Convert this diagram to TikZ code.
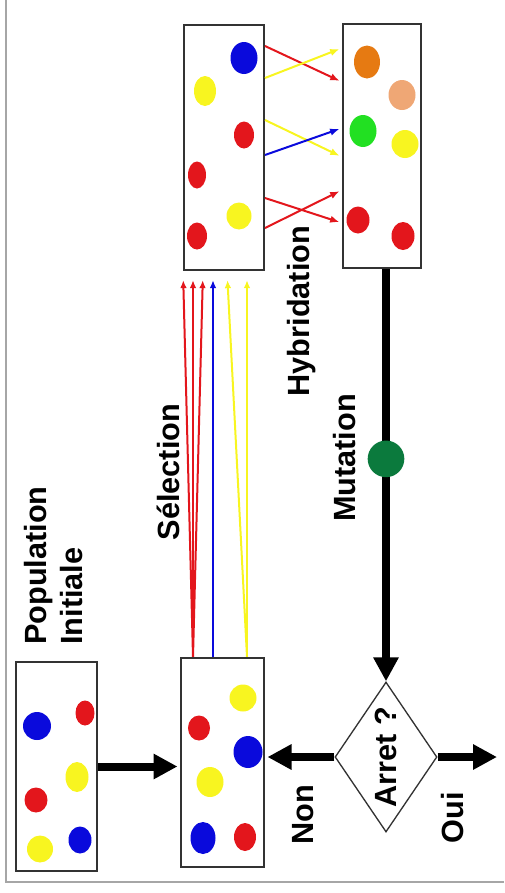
\documentclass[tikz,border=0pt]{standalone}
\usepackage{fontspec}
\setmainfont{Liberation Sans}
\usetikzlibrary{arrows.meta,positioning,calc,shapes.geometric}
\definecolor{dred}{HTML}{E3161C}
\definecolor{dblue}{HTML}{0A0ADC}
\definecolor{dyellow}{HTML}{F8F520}
\definecolor{dgreen}{HTML}{22E022}
\definecolor{dorange}{HTML}{E67A12}
\definecolor{dpeach}{HTML}{EFA775}
\definecolor{mgreen}{HTML}{0B7A3D}
\definecolor{boxgray}{HTML}{333333}
\begin{document}
\begin{tikzpicture}[x=0.75pt,y=-0.75pt,>=Latex,
  every node/.style={font=\bfseries\fontsize{23}{27}\selectfont},
  popbox/.style={draw=boxgray,line width=1.5pt,inner sep=0pt,minimum width=61pt,minimum height=157pt},
  genbox/.style={popbox,minimum height=183.5pt},
  lab/.style={rotate=90,inner sep=0pt},
  bigarrow/.style={line width=6pt,-{Triangle[length=18pt,width=18pt]}},
  selarrow/.style={line width=1.5pt,-{Latex[length=6pt,width=5pt]},shorten >=7pt},
  hybarrow/.style={line width=1.5pt,-{Latex[length=7pt,width=5.5pt]},shorten >=2pt}]
\useasboundingbox (0,0) rectangle (504,893);
\draw[gray!70,line width=1.5pt] (6,0)--(6,882)--(504,882);
\node[popbox] (pop) at (56.5,766.5) {};
\node[popbox,minimum width=62pt] (sel) at (222.5,762.5) {};
\node[genbox,minimum width=60pt] (par) at (224,147.5) {};
\node[genbox,minimum width=58.5pt] (enf) at (382,146) {};
\node[diamond,draw=boxgray,line width=1pt,inner sep=0pt,minimum width=76.5pt,minimum height=112.5pt] (test) at (386,757) {};
\foreach \x/\y/\c/\a/\b in {37/726/dblue/14/14,85/713/dred/9.5/12.5,77/777/dyellow/11.5/15,36/800/dred/11.5/12.5,40/849/dyellow/13/13.5,80/840/dblue/11.5/13.5,
  243/698/dyellow/13.5/13.5,199/728/dred/11/12.5,248/752/dblue/14.5/16,210/782/dyellow/13.5/15,203/838/dblue/12.5/16,245/837/dred/11/14,
  244/58/dblue/13.5/16,205/91/dyellow/11/15,244/135/dred/10/13.5,197/175/dred/9/13.5,239/216/dyellow/12.5/13.5,197/236/dred/10/13.5,
  367/62/dorange/13/16.5,402/95/dpeach/13.5/15,363/131/dgreen/13.5/16,405/144/dyellow/13.5/14,358/220/dred/11.5/13.5,403/236/dred/11.5/14}
  {\fill[\c] (\x,\y) ellipse [x radius=\a, y radius=\b];}
\foreach \xa/\xb/\c in {193/183/dred,193/193/dred,193/203/dred,213/213/dblue,247/227/dyellow,247/247/dyellow}
  \draw[selarrow,\c] (\xa,0 |- sel.north) -- (\xb,0 |- par.south);
\foreach \ya/\yb/\c in {46/82/dred,78/48/dyellow,120/157/dyellow,155/128/dblue,198/223/dred,228/190/dred}
  \draw[hybarrow,\c] (par.east |- 0,\ya) -- (enf.west |- 0,\yb);
\coordinate (fin) at (497,757);
\draw[bigarrow,shorten >=2pt] (pop.east) -- (pop.east -| sel.west);
\draw[bigarrow,shorten >=2pt] (test.west) -- (test.west -| sel.east);
\draw[bigarrow] (test.east) -- (fin);
\draw[bigarrow] (test.north |- enf.south) -- node[pos=.46,circle,fill=mgreen,inner sep=0pt,minimum size=27.5pt] (mut) {} (test.north);
\node[lab,align=left,anchor=north west] (titre) at (24,645) {Population\\Initiale};
\node[lab] (slab) at (168,472) {Sélection};
\node[lab] (hlab) at (302,311) {Hybridation};
\node[lab] (mlab) at (345,458) {Mutation};
\node[lab] (arret) at (test) {Arret ?};
\node[lab] (non) at (303,815) {Non};
\node[lab] (oui) at (453,818) {Oui};
\end{tikzpicture}
\end{document}
